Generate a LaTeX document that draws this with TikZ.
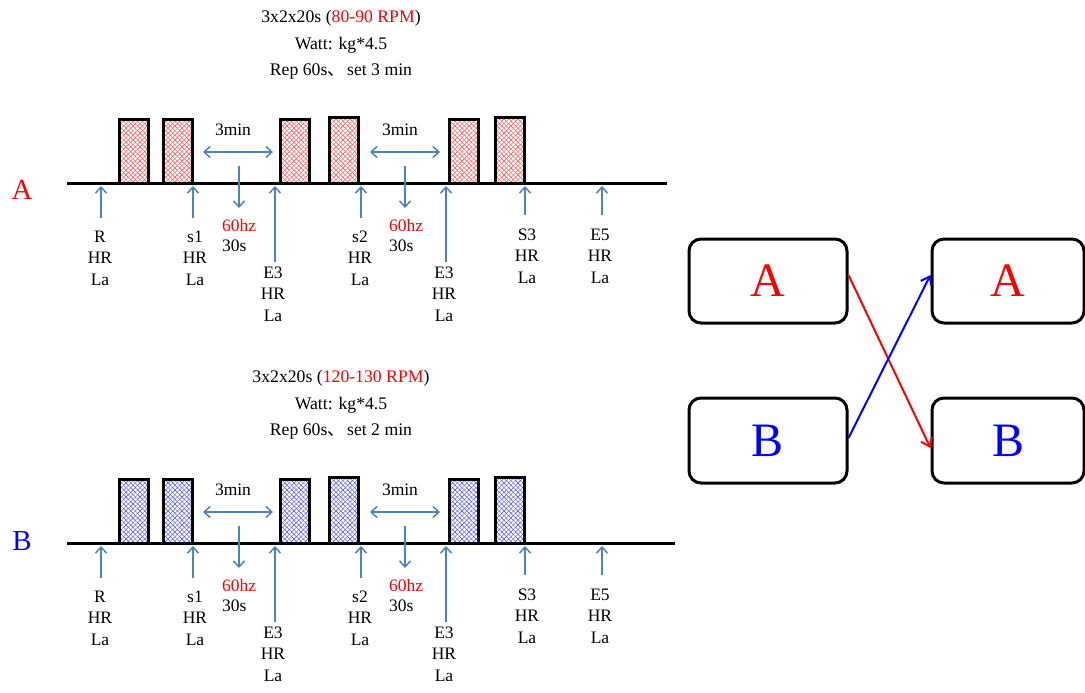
\documentclass[tikz,border=0pt]{standalone}
\usepackage{fontspec}
\setmainfont{Liberation Serif}
\newfontfamily\cjkfont{Noto Sans CJK SC}
\usetikzlibrary{arrows.meta,patterns.meta}
\definecolor{steel}{RGB}{79,129,189}
\definecolor{myred}{RGB}{255,0,0}
\definecolor{myblue}{RGB}{0,0,255}
\tikzset{
 lbl/.style={font=\fontsize{17.5}{21.5}\selectfont, align=center, inner sep=0pt},
 hz/.style={font=\fontsize{17.5}{20}\selectfont, align=left, anchor=west, inner sep=0pt},
 ttl/.style={font=\fontsize{17.7}{26.5}\selectfont, align=center, inner sep=0pt},
 bar/.style={draw, line width=3pt, minimum width=29pt, inner sep=0pt,
   preaction={fill=white},
   preaction={pattern={Lines[angle=45,distance=3.3pt,line width=0.45pt]}, pattern color=#1!70},
   preaction={pattern={Lines[angle=-45,distance=3.3pt,line width=0.45pt]}, pattern color=#1!70}},
 marrow/.style={steel, line width=1.5pt, -{Straight Barb[length=6pt,width=11pt]}},
 darrow/.style={steel, line width=1.5pt, {Straight Barb[length=6pt,width=11pt]}-{Straight Barb[length=6pt,width=11pt]}},
 base/.style={line width=3pt},
 box/.style={draw, line width=3pt, rounded corners=12pt, minimum height=84pt, font=\fontsize{48}{48}\selectfont},
 side/.style={font=\fontsize{29}{29}\selectfont},
 cross/.style={line width=2pt, -{Straight Barb[length=8pt,width=12pt]}}
}
\begin{document}
\begin{tikzpicture}[x=1pt,y=-1pt]
\useasboundingbox (0,0) rectangle (1085,693);
\foreach \p/\dy/\col/\rpm/\st/\xe/\ly in {A/0/myred/80-90/3/667/190, B/360/myblue/120-130/2/675/181}{
\begin{scope}[yshift=-\dy pt]
  \node[ttl] (\p title) at (341,45) {3x2x20s ({\color{myred}\rpm{} RPM})\\Watt: kg*4.5\\Rep 60s{\cjkfont 、}\kern2pt set \st{} min};
  \node[side, text=\col] (\p side) at (22,\ly) {\p};
  \coordinate (\p L0) at (67,183);
  \coordinate (\p L1) at (\xe,183);
  \draw[base] (\p L0) -- (\p L1);
  \node[bar=\col, minimum height=64pt] (\p b1) at (133.5,151) {};
  \node[bar=\col, minimum height=64pt] (\p b2) at (178,151) {};
  \node[bar=\col, minimum height=64pt] (\p b3) at (295,151) {};
  \node[bar=\col, minimum height=66pt] (\p b4) at (343.7,150) {};
  \node[bar=\col, minimum height=64pt] (\p b5) at (464,151) {};
  \node[bar=\col, minimum height=66pt] (\p b6) at (510,150) {};
  % 3 min double arrows
  \coordinate (\p d1a) at (203,152); \coordinate (\p d1b) at (273,152);
  \coordinate (\p d2a) at (370,152); \coordinate (\p d2b) at (440,152);
  \draw[darrow] (\p d1a) -- (\p d1b);
  \draw[darrow] (\p d2a) -- (\p d2b);
  \node[lbl] (\p m1) at (233,130) {3min};
  \node[lbl] (\p m2) at (400,130) {3min};
  % down arrows
  \coordinate (\p h1a) at (239,166); \coordinate (\p h1b) at (239,208);
  \coordinate (\p h2a) at (405,166); \coordinate (\p h2b) at (405,208);
  \draw[marrow] (\p h1a) -- (\p h1b);
  \draw[marrow] (\p h2a) -- (\p h2b);
  \node[hz] (\p hz1) at (222,236) {\textcolor{myred}{60hz}\\30s};
  \node[hz] (\p hz2) at (389,236) {\textcolor{myred}{60hz}\\30s};
  % up arrows and labels
  \foreach \n/\x/\ys/\lx/\lyy/\t in {u1/101/218/100/258/R, u2/193/218/195/258/s1, u3/275/262/273/294/E3, u4/361/218/360/258/s2, u5/446/262/444/294/E3, u6/525/215/527/256/S3, u7/602/215/600/256/E5}{
    \coordinate (\p\n a) at (\x,\ys);
    \coordinate (\p\n b) at (\x,186);
    \draw[marrow] (\p\n a) -- (\p\n b);
    \node[lbl] (\p\n t) at (\lx,\lyy) {\t\\HR\\La};
  }
\end{scope}
}
% right side
\node[box, minimum width=158pt, text=myred] (LA) at (768,281) {A};
\node[box, minimum width=158pt, minimum height=85pt, text=myblue] (LB) at (768,440.5) {B};
\node[box, minimum width=152pt, text=myred] (RA) at (1008,281) {A};
\node[box, minimum width=152pt, minimum height=85pt, text=myblue] (RB) at (1008,440.5) {B};
\draw[cross, myred] ([yshift=6pt]LA.east) -- ([yshift=-7.5pt]RB.west);
\draw[cross, myblue] ([yshift=2.5pt]LB.east) -- ([yshift=6pt]RA.west);
\end{tikzpicture}
\end{document}
